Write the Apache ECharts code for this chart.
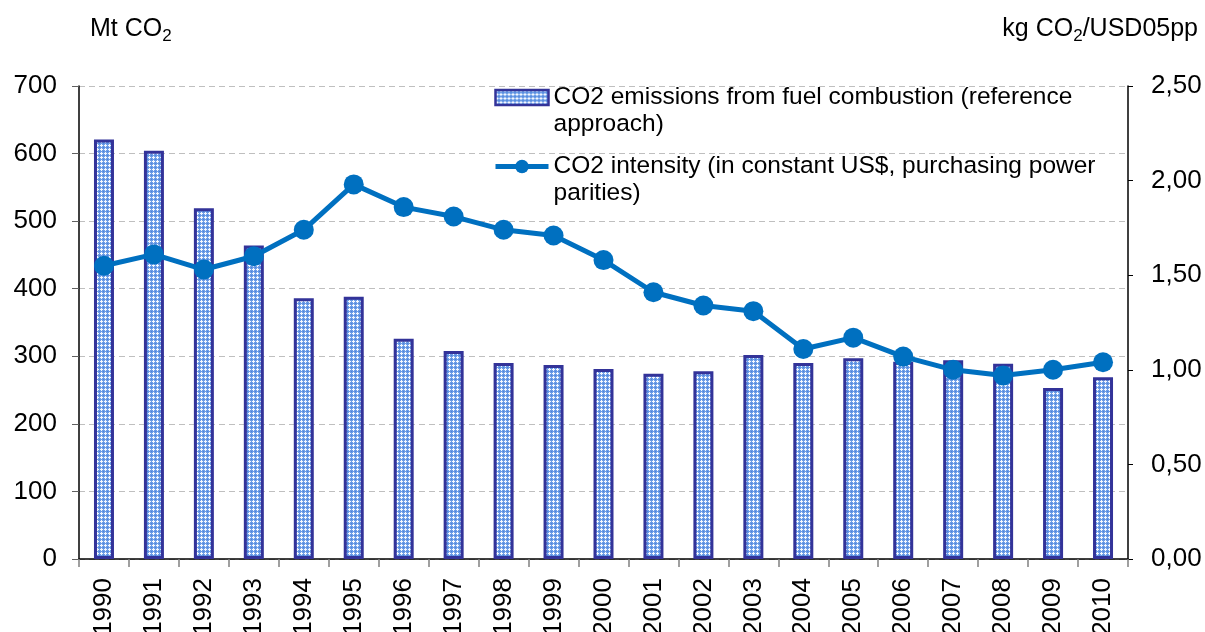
<!DOCTYPE html>
<html><head><meta charset="utf-8">
<script src="https://cdn.jsdelivr.net/npm/echarts@6/dist/echarts.min.js"></script>
<style>html,body{margin:0;padding:0;background:#fff}#c{width:1205px;height:632px}</style>
</head><body><div id="c"></div>
<script>
const years = ['1990','1991','1992','1993','1994','1995','1996','1997','1998','1999','2000','2001','2002','2003','2004','2005','2006','2007','2008','2009','2010'];
const emissions = [621,604,519,464,386,388,326,308,290,287,281,274,278,302,290,297,292,294,289,253,269];
const intensity = [1.55,1.61,1.53,1.60,1.74,1.98,1.86,1.81,1.74,1.71,1.58,1.41,1.34,1.31,1.11,1.17,1.07,1.00,0.97,1.00,1.04];
const leftTicks = {min:0, max:700, interval:100};
const rightTicks = {min:0, max:2.5, interval:0.5};
const barName = 'CO2 emissions from fuel combustion (reference\napproach)';
const lineName = 'CO2 intensity (in constant US$, purchasing power\nparities)';

function makePattern(){
  const c = document.createElement('canvas'); c.width = 4; c.height = 4;
  const g = c.getContext('2d');
  g.fillStyle = '#6b9ce6'; g.fillRect(0,0,4,4);
  g.fillStyle = '#f4f8fe';
  [[1,0],[0,1],[1,1],[2,1],[1,2]].forEach(p=>g.fillRect(p[0],p[1],1,1));
  g.fillStyle = '#4a80d8';
  g.fillRect(3,3,1,1);
  return c;
}
const pattern = {image: makePattern(), repeat: 'repeat'};
const F = 'Arial, "Liberation Sans", sans-serif';
const titleRich = {
  a:{fontSize:25, fontFamily:F, color:'#000', fontWeight:'normal'},
  s:{fontSize:17, fontFamily:F, color:'#000', fontWeight:'normal', verticalAlign:'bottom', padding:[14,0,0,0]}
};

const chart = echarts.init(document.getElementById('c'), null, {renderer:'canvas'});
chart.setOption({
  animation:false,
  textStyle:{fontFamily:F},
  grid:{left:79, right:77, top:86, bottom:73, containLabel:false, outerBoundsMode:'none'},
  title:[
    {left:90, top:14, padding:0, text:'{a|Mt CO}{s|2}', textStyle:{rich:titleRich}},
    {right:7, top:14, padding:0, text:'{a|kg CO}{s|2}{a|/USD05pp}', textStyle:{rich:titleRich}}
  ],
  legend:{
    orient:'vertical', left:493, top:57, padding:0, itemWidth:53, itemHeight:17, itemGap:-12,
    symbolKeepAspect:true,
    formatter: name => '\u00a0\n' + name,
    textStyle:{fontSize:24.5, fontFamily:F, color:'#000', lineHeight:27},
    data:[
      {name:barName, icon:'path://M0,0L53,0L53,15L0,15Z', itemStyle:{borderColor:'#333399', borderWidth:2.5}},
      {name:lineName, lineStyle:{width:5, color:'#0070C0'}}
    ]
  },
  xAxis:{
    type:'category', data:years,
    axisLine:{lineStyle:{color:'#000', width:1.5}},
    axisTick:{show:true, length:8, lineStyle:{color:'#808080', width:1.5}},
    axisLabel:{rotate:90, fontSize:26, color:'#000', margin:19, fontFamily:F}
  },
  yAxis:[
    {type:'value', min:leftTicks.min, max:leftTicks.max, interval:leftTicks.interval,
     axisLine:{show:true, lineStyle:{color:'#000', width:1.5}},
     axisTick:{show:true, length:7, lineStyle:{color:'#606060'}},
     axisLabel:{fontSize:26, color:'#000', margin:22, fontFamily:F},
     splitLine:{show:true, lineStyle:{color:'#bfbfbf', type:[6,4], width:1}}},
    {type:'value', min:rightTicks.min, max:rightTicks.max, interval:rightTicks.interval, position:'right',
     axisLine:{show:true, lineStyle:{color:'#000', width:1.5}},
     axisTick:{show:true, length:5, lineStyle:{color:'#000', width:1}},
     axisLabel:{fontSize:26, color:'#000', margin:23, fontFamily:F, formatter:v=>v.toFixed(2).replace('.',',')},
     splitLine:{show:false}}
  ],
  series:[
    {name:barName, type:'bar', data:emissions, yAxisIndex:0, barWidth:20,
     itemStyle:{color:pattern, borderColor:'#333399', borderWidth:3}},
    {name:lineName, type:'line', data:intensity, yAxisIndex:1,
     symbol:'circle', symbolSize:20,
     lineStyle:{color:'#0070C0', width:5}, itemStyle:{color:'#0070C0'}}
  ]
});
</script></body></html>
